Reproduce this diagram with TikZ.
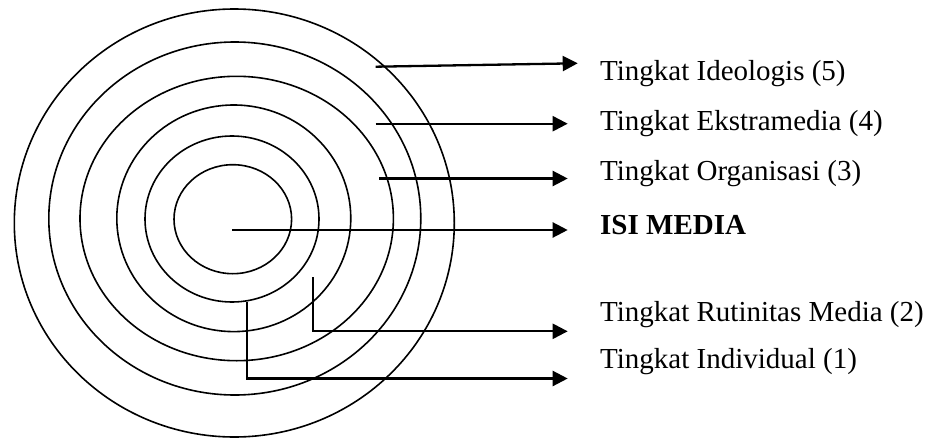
\documentclass[tikz,border=0pt]{standalone}
\usepackage{fontspec}
\setmainfont{Liberation Serif}
\usetikzlibrary{arrows.meta}
\begin{document}
\begin{tikzpicture}[x=1pt,y=-1pt,
  ring/.style={line width=1.6pt},
  pointer/.style={line width=2.3pt, -{Triangle[length=15pt,width=15pt]}},
  level/.style={anchor=base west, inner sep=0pt, font=\fontsize{29}{34}\selectfont}]
\useasboundingbox (0,0) rectangle (932,439);

% concentric levels, outermost first
\draw[ring] (234.3,223)   ellipse [x radius=220pt,   y radius=214pt];
\draw[ring] (234.8,218.5) ellipse [x radius=186pt,   y radius=176.5pt];
\draw[ring] (236.7,218.5) ellipse [x radius=156.7pt, y radius=142.2pt];
\draw[ring] (233.8,218.3) ellipse [x radius=117pt,   y radius=113.3pt];
\draw[ring] (232,219)     ellipse [x radius=87pt,    y radius=83pt];
\draw[ring] (232.8,219.2) ellipse [x radius=58.8pt,  y radius=54.5pt];

% labels
\node[level] (ideo) at (600,80.7)  {Tingkat Ideologis (5)};
\node[level] (ekst) at (600,130.7) {Tingkat Ekstramedia (4)};
\node[level] (org)  at (600,180)   {Tingkat Organisasi (3)};
\node[level] (isi)  at (600,234.3) {\textbf{ISI MEDIA}};
\node[level] (rut)  at (600,321.7) {Tingkat Rutinitas Media (2)};
\node[level] (ind)  at (600,368.3) {Tingkat Individual (1)};

% arrow start and tip points
\coordinate (s5) at (375.7,66.7);  \coordinate (t5) at (577.7,63.3);
\coordinate (s4) at (375.7,123.7); \coordinate (t4) at (567.7,123.7);
\coordinate (s3) at (379.3,178.5); \coordinate (t3) at (567.7,178.5);
\coordinate (s0) at (232.3,230);   \coordinate (t0) at (567.7,230);
\coordinate (s2) at (312.7,277.3); \coordinate (t2) at (567.7,331.3);
\coordinate (s1) at (246.7,301.7); \coordinate (t1) at (567.7,378.5);

\draw[pointer] (s5) -- (t5);
\draw[pointer] (s4) -- (t4);
\draw[pointer] (s3) -- (t3);
\draw[pointer] (s0) -- (t0);
\draw[pointer] (s2) |- (t2);
\draw[pointer] (s1) |- (t1);
\end{tikzpicture}
\end{document}
